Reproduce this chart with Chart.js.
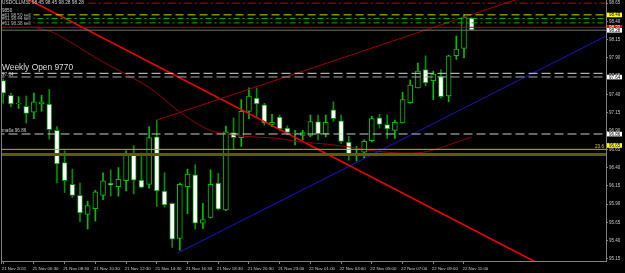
<!DOCTYPE html>
<html>
<head>
<meta charset="utf-8">
<script src="https://cdn.jsdelivr.net/npm/chart.js@4.4.1/dist/chart.umd.min.js"></script>
<style>
  html, body { margin: 0; padding: 0; background: #000; overflow: hidden; }
</style>
</head>
<body>
<canvas id="chart" width="625" height="273"></canvas>
<script>
// USDOLL M30, 21-22 Nov 2011, one value per 30 min bar
const symbol = "USDOLLM30";
const opens  = [97.59, 97.39, 97.27, 97.24, 97.16, 97.27, 97.27, 96.91, 96.47, 96.17,
                96.02, 95.76, 95.84, 96.02, 96.19, 96.14, 96.22, 96.59, 96.23, 96.17,
                96.82, 96.08, 95.91, 95.43, 96.14, 96.30, 95.64, 95.72, 96.19, 95.82,
                96.88, 96.81, 97.17, 97.35, 97.26, 96.99, 97.09, 96.94, 96.865, 96.84,
                96.84, 97.03, 96.86, 97.19, 97.04, 96.75, 96.58, 96.61, 96.77, 97.08,
                96.99, 96.91, 97.01, 97.29, 97.49, 97.74, 97.59, 97.65, 97.38, 97.93,
                98.03, 98.45];
const highs  = [97.61, 97.42, 97.37, 97.38, 97.42, 97.39, 97.47, 96.96, 96.63, 96.38,
                96.19, 95.94, 96.09, 96.33, 96.37, 96.40, 96.63, 96.70, 96.60, 96.96,
                97.05, 96.33, 95.92, 96.19, 96.38, 96.44, 95.91, 96.37, 96.32, 96.97,
                97.08, 97.33, 97.49, 97.49, 97.28, 97.13, 97.12, 96.97, 96.91, 96.91,
                97.12, 97.12, 97.12, 97.30, 97.12, 96.83, 96.69, 96.78, 97.10, 97.13,
                97.12, 97.05, 97.43, 97.60, 97.83, 97.93, 97.72, 97.74, 97.94, 98.20,
                98.49, 98.45];
const lows   = [97.28, 97.23, 97.21, 97.01, 97.07, 97.17, 96.79, 96.19, 96.06, 95.99,
                95.66, 95.56, 95.67, 95.96, 96.01, 96.01, 96.08, 96.04, 96.12, 96.12,
                95.87, 95.86, 95.31, 95.27, 95.77, 95.56, 95.57, 95.71, 95.82, 95.81,
                96.66, 96.69, 97.07, 97.10, 96.98, 96.96, 96.91, 96.85, 96.71, 96.78,
                96.82, 96.78, 96.82, 97.03, 96.73, 96.50, 96.49, 96.53, 96.75, 96.94,
                96.80, 96.80, 97.01, 97.28, 97.49, 97.52, 97.33, 97.35, 97.30, 97.88,
                97.90, 98.28];
const closes = [97.42, 97.27, 97.28, 97.14, 97.30, 97.30, 96.92, 96.45, 96.22, 96.02,
                95.78, 95.88, 96.07, 96.22, 96.16, 96.24, 96.59, 96.23, 96.13, 96.81,
                96.08, 95.89, 95.42, 96.17, 96.31, 95.64, 95.69, 96.17, 95.83, 96.89,
                96.81, 97.17, 97.38, 97.27, 97.01, 97.02, 96.93, 96.88, 96.87, 96.88,
                97.03, 96.86, 97.02, 97.07, 96.76, 96.58, 96.585, 96.76, 97.07, 96.99,
                96.93, 97.02, 97.33, 97.53, 97.72, 97.56, 97.68, 97.37, 97.93, 98.02,
                98.46, 98.28];

const timeLabels = ["21 Nov 2011", "21 Nov 06:30", "21 Nov 08:30", "21 Nov 10:30",
                    "21 Nov 12:30", "21 Nov 14:30", "21 Nov 16:30", "21 Nov 18:30",
                    "21 Nov 20:30", "21 Nov 23:00", "22 Nov 01:00", "22 Nov 03:00",
                    "22 Nov 05:00", "22 Nov 07:00", "22 Nov 09:00", "22 Nov 11:00"];
const timeTickBars = [0, 4, 8, 12, 16, 20, 24, 28, 32, 36, 40, 44, 48, 52, 56, 60];
const priceTicks = [95.15, 95.40, 95.65, 95.90, 96.15, 96.40, 96.65, 96.90,
                    97.15, 97.40, 97.65, 97.90, 98.15, 98.40, 98.65];

// horizontal lines: price and first bar
const levels     = [98.65, 98.49, 98.44, 98.38, 98.32, 98.28, 97.69, 97.64, 96.86, 96.65, 96.58];
const levelStart = [11, -1, -1, -1, -1, -1, -1, -1, -1, -1, -1];

// trend lines (bar index, price)
const redTrendBars = [0, 78.5];
const redTrendPrices = [98.88, 94.61];
const channelBars = [20, 78.5];
const channelPrices = [97.05, 99.11];
const blueTrendBars = [22.7, 78.5];
const blueTrendPrices = [95.23, 98.20];

// slow moving average (dark red)
const maBars   = [4.4, 6.7, 12.6, 19.1, 23.0, 26.9, 29.9, 31.2, 35.7, 38.7, 42.2, 45.2, 48.2, 51.7, 54.7, 56.9, 59.1, 61.0];
const maPrices = [98.31, 98.24, 97.87, 97.49, 97.16, 96.91, 96.85, 96.83, 96.80, 96.75, 96.72, 96.68, 96.63, 96.60, 96.61, 96.67, 96.75, 96.82];

const leftNotes = ["9850", "#61 98.50 sell", "#61 98.44 sell", "#61 98.38 sell"];
const boxPrices = [98.49, 98.32, 98.28, 97.64, 96.86, 96.65];

const levelStyles = [
  { color: "#c00000", width: 1, dash: [8, 3, 2, 3] },
  { color: "#d2d200", width: 1, dash: [8, 4] },
  { color: "#00b000", width: 1, dash: [6, 3, 2, 3] },
  { color: "#00b000", width: 1, dash: [6, 3, 2, 3] },
  { color: "#c00000", width: 1, dash: [] },
  { color: "#707070", width: 1, dash: [] },
  { color: "#d8d8d8", width: 1, dash: [9, 4] },
  { color: "#a8a8a8", width: 1, dash: [9, 4] },
  { color: "#c8c8c8", width: 1, dash: [9, 4] },
  { color: "#b4b420", width: 1, dash: [] },
  { color: "#5c5c00", width: 3, dash: [] }
];
const boxStyles = [
  { bg: "#ffff00", fg: "#000" },
  { bg: "#ff0000", fg: "#fff" },
  { bg: "#ffffff", fg: "#000" },
  { bg: "#ffffff", fg: "#000" },
  { bg: "#ffffff", fg: "#000" },
  { bg: "#ffff00", fg: "#000" }
];

const xMin = -0.286, xMax = 78.49;
const yMin = 95.1226, yMax = 98.6931;
const FONT = "Liberation Sans";

const pairs = (xs, ys) => xs.map((v, i) => ({ x: v, y: ys[i] }));

const lineSets = levels.map((v, i) => ({
  type: "line",
  data: [{ x: levelStart[i], y: v }, { x: 80, y: v }],
  borderColor: levelStyles[i].color,
  borderWidth: levelStyles[i].width,
  borderDash: levelStyles[i].dash,
  pointRadius: 0,
  clip: 0
}));

const trendSets = [
  { data: pairs(maBars, maPrices), color: "#900000", width: 1, tension: 0.3 },
  { data: pairs(channelBars, channelPrices), color: "#a00000", width: 1, tension: 0 },
  { data: pairs(redTrendBars, redTrendPrices), color: "#ff0000", width: 1.5, tension: 0 },
  { data: pairs(blueTrendBars, blueTrendPrices), color: "#1414c8", width: 1, tension: 0 }
].map(t => ({
  type: "line",
  data: t.data,
  borderColor: t.color,
  borderWidth: t.width,
  tension: t.tension,
  pointRadius: 0,
  clip: 0
}));

const isBull = opens.map((o, i) => closes[i] >= o);

const bodies = {
  type: "bar",
  data: opens.map((o, i) => ({ x: i, y: [Math.min(o, closes[i]), Math.max(o, closes[i])] })),
  backgroundColor: isBull.map(b => b ? "#000000" : "#ffffff"),
  borderColor: isBull.map(b => b ? "#00c000" : "#009000"),
  borderWidth: 1,
  borderSkipped: false,
  barThickness: 5,
  grouped: false,
  clip: 0
};

const wicks = {
  type: "bar",
  data: lows.map((l, i) => ({ x: i, y: [l, highs[i]] })),
  backgroundColor: isBull.map(b => b ? "#00c000" : "#009000"),
  borderWidth: 0,
  barThickness: 1,
  grouped: false,
  clip: 0
};

const decor = {
  id: "decor",
  afterDraw(chart) {
    const { ctx, chartArea: a, scales: { y } } = chart;
    const py = v => y.getPixelForValue(v);
    ctx.save();
    ctx.strokeStyle = "#808080";
    ctx.lineWidth = 1;
    ctx.beginPath();
    ctx.moveTo(a.left + 0.5, a.top);
    ctx.lineTo(a.left + 0.5, a.bottom + 3);
    ctx.stroke();

    ctx.textBaseline = "middle";
    ctx.textAlign = "left";
    const last = opens.length - 1;
    ctx.font = "4.8px '" + FONT + "'";
    ctx.fillStyle = "#d0d0d0";
    ctx.fillText(symbol + " " + [opens[last], highs[last], lows[last], closes[last]].map(v => v.toFixed(2)).join(" "), 2, 3);

    ctx.font = "4.6px '" + FONT + "'";
    ctx.fillText(leftNotes[0], 2, py(levels[1]) - 4);
    [levels[1], levels[2], levels[3]].forEach((v, i) => {
      const t = leftNotes[i + 1];
      const w = ctx.measureText(t).width;
      ctx.fillStyle = "#000";
      ctx.fillRect(2, py(v) - 2, w + 3, 4);
      ctx.fillStyle = "#b8b8b8";
      ctx.fillText(t, 2, py(v) + 0.5);
    });

    ctx.fillStyle = "#dcdcdc";
    ctx.font = "8.4px '" + FONT + "'";
    ctx.fillText("Weekly Open 9770", 2, py(97.69) - 5.5);
    ctx.font = "4.6px '" + FONT + "'";
    ctx.fillStyle = "#c8c8c8";
    ctx.fillText(levels[7].toFixed(2), 2, py(97.665));
    ctx.fillText("ma6a " + levels[8].toFixed(2), 2, py(levels[8]) - 3);
    ctx.fillStyle = "#d2d200";
    ctx.textAlign = "right";
    ctx.fillText("23.6", 604, py(levels[9]) - 3);

    // price boxes on the right axis
    ctx.textAlign = "left";
    ctx.font = "4.5px '" + FONT + "'";
    boxPrices.forEach((v, i) => {
      const cy = py(v) - (i === 5 ? 4 : 0);
      ctx.fillStyle = boxStyles[i].bg;
      ctx.fillRect(a.right + 1, cy - 2.2, 15, 4.6);
      ctx.fillStyle = boxStyles[i].fg;
      ctx.fillText(v.toFixed(2), a.right + 3, cy + 0.3);
    });
    ctx.restore();
  }
};

new Chart(document.getElementById("chart"), {
  type: "bar",
  data: { datasets: [...lineSets, ...trendSets, bodies, wicks] },
  options: {
    responsive: false,
    animation: false,
    devicePixelRatio: 1,
    layout: { padding: { left: 1, top: 0, right: 0, bottom: 0 } },
    plugins: { legend: { display: false }, tooltip: { enabled: false } },
    scales: {
      x: {
        type: "linear",
        min: xMin,
        max: xMax,
        offset: false,
        grid: { drawOnChartArea: false, drawTicks: true, tickLength: 3, color: "#808080", offset: false },
        border: { display: true, color: "#808080" },
        ticks: {
          autoSkip: false, maxRotation: 0, minRotation: 0, align: "start",
          padding: 2, labelOffset: -1.5, color: "#c8c8c8",
          font: { family: FONT, size: 4.4 },
          callback: (v, i) => timeLabels[i]
        },
        afterBuildTicks: s => { s.ticks = timeTickBars.map(v => ({ value: v })); },
        afterFit: s => { s.height = 12; s.paddingLeft = 0; s.paddingRight = 0; }
      },
      y: {
        position: "right",
        min: yMin,
        max: yMax,
        beginAtZero: false,
        grid: { drawOnChartArea: false, drawTicks: true, tickLength: 2, color: "#808080" },
        border: { display: true, color: "#808080" },
        ticks: {
          autoSkip: false, padding: 1, color: "#c8c8c8",
          font: { family: FONT, size: 4.5 },
          callback: v => v.toFixed(2)
        },
        afterBuildTicks: s => { s.ticks = priceTicks.map(v => ({ value: v })); },
        afterFit: s => { s.width = 19; s.paddingTop = 0; s.paddingBottom = 0; }
      }
    }
  },
  plugins: [decor]
});
</script>
</body>
</html>
